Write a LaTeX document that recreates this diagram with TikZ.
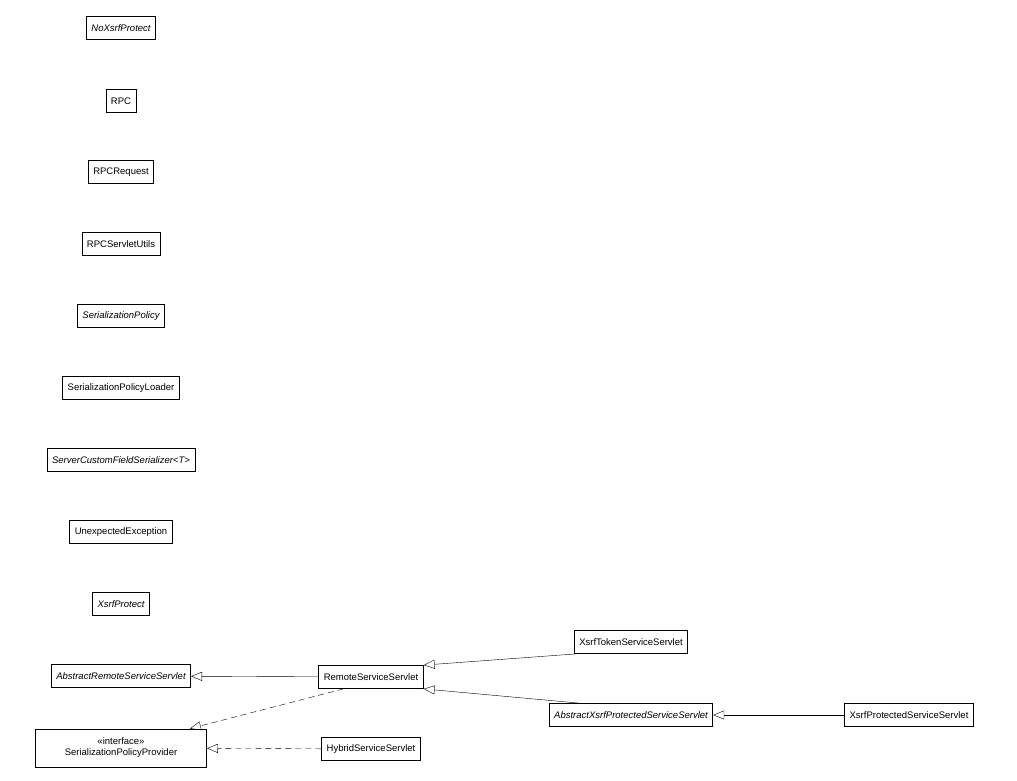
\documentclass[tikz,border=0pt]{standalone}
\usepackage{fontspec}
\setmainfont{Liberation Sans}
\usetikzlibrary{arrows.meta}

\begin{document}
\begin{tikzpicture}[x=1pt,y=-1pt,font=\fontsize{9.5}{11}\selectfont]
    \tikzstyle{cls} = [rectangle, draw=black, fill=white, thick, minimum height=23pt, inner xsep=5pt, inner ysep=2pt]
    \tikzstyle{abs} = [cls, font=\fontsize{9.5}{11}\selectfont\itshape]
    \tikzstyle{inherit} = [-{Triangle[open,length=11pt,width=9pt]}, thin]
    \tikzstyle{realize} = [inherit, dash pattern=on 6pt off 4pt]

    \useasboundingbox (0,0) rectangle (1017,781);

    %%% DRAW THE NODES
    \node[abs] (nxp) at (121,28) {NoXsrfProtect};
    \foreach \name / \txt / \y in {rpc/RPC/101, rpcr/RPCRequest/172, rpcu/RPCServletUtils/244}
        \node[cls] (\name) at (121,\y) {\txt};
    \node[abs] (sp) at (121,316) {SerializationPolicy};
    \node[cls] (spl) at (121,388) {SerializationPolicyLoader};
    \node[abs] (scfs) at (121,460) {ServerCustomFieldSerializer<T>};
    \node[cls] (ue) at (121,532) {UnexpectedException};
    \node[abs] (xp) at (121,604) {XsrfProtect};
    \node[abs] (arss) at (121,676) {AbstractRemoteServiceServlet};
    \node[cls, align=center, minimum height=38pt, minimum width=171pt] (spp) at (121,748) {«interface»\\SerializationPolicyProvider};
    \node[cls] (rss) at (371,677) {RemoteServiceServlet};
    \node[cls] (hss) at (371,749) {HybridServiceServlet};
    \node[cls] (xtss) at (631,642) {XsrfTokenServiceServlet};
    \node[abs] (axpss) at (631,715) {AbstractXsrfProtectedServiceServlet};
    \node[cls] (xpss) at (909,715) {XsrfProtectedServiceServlet};

    %%% DRAW THE PATHS
    \draw[inherit] (rss) -- (arss);
    \draw[realize] ([xshift=25pt]rss.south west) -- ([xshift=-17pt]spp.north east);
    \draw[realize] (hss) -- (spp);
    \draw[inherit] ([xshift=2pt]xtss.south west) -- (rss.north east);
    \draw[inherit] ([xshift=30pt]axpss.north west) -- (rss.south east);
    \draw[inherit] (xpss) -- (axpss);
\end{tikzpicture}
\end{document}
